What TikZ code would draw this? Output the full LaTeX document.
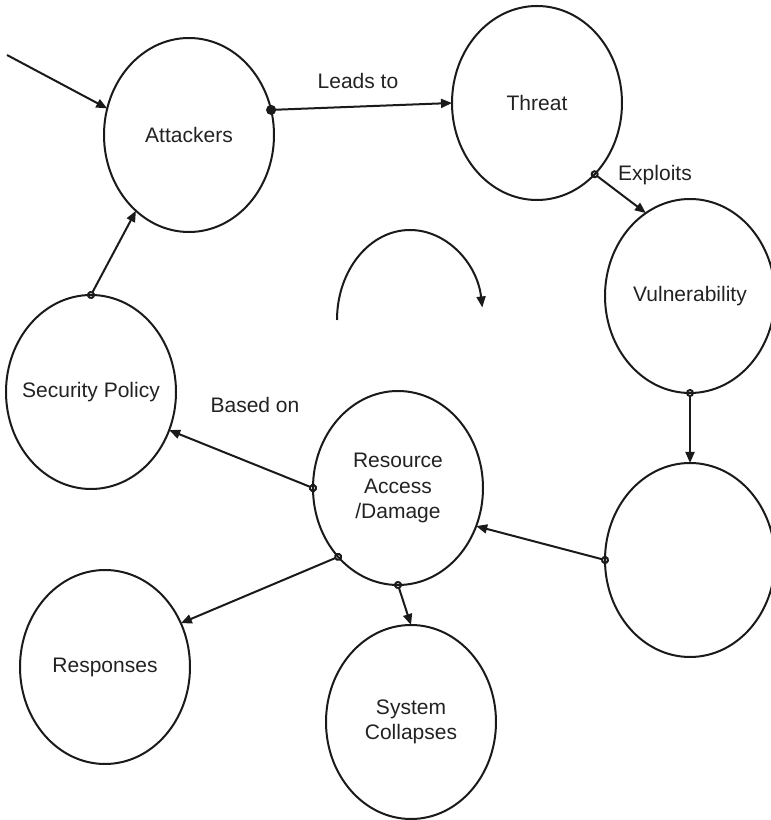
\documentclass[tikz,border=0pt]{standalone}
\usepackage{fontspec}
\setmainfont{Liberation Sans}
\usetikzlibrary{arrows.meta,shapes.geometric}
\definecolor{atkLine}{HTML}{1A1A1A}
\definecolor{atkText}{HTML}{222222}
\tikzset{
  atk diagram/.style={
    draw=atkLine, line width=1pt,
    >={Triangle[length=5.5pt,width=4.5pt]},
    every node/.style={font=\fontsize{10.5}{12.8}\selectfont,
      text=atkText, inner sep=0pt, outer sep=0pt}
  },
  atk state/.style={ellipse, draw=atkLine, line width=1pt,
    inner sep=-15pt, minimum width=85pt, minimum height=97pt,
    align=center},
  atk link/.style={{Circle[open,length=4pt,width=4pt]}->, shorten <=-2pt},
  atk lead/.style={{Circle[length=5pt,width=5pt]}->, shorten <=-2.5pt}
}
\begin{document}
\begin{tikzpicture}[atk diagram,x=0.5pt,y=0.5pt]
    \useasboundingbox (0,0) rectangle (771,820);
    % states
    \node[atk state] (att) at (189,685) {Attackers};
    \node[atk state] (thr) at (537,717) {Threat};
    \node[atk state] (vul) at (690,524) {Vulnerability};
    \node[atk state] (unk) at (690,260) {};
    \node[atk state] (res) at (398,332) {Resource\\Access\\/Damage};
    \node[atk state] (pol) at (91,428) {Security Policy};
    \node[atk state] (rsp) at (105,153) {Responses};
    \node[atk state] (col) at (411,98) {System\\Collapses};
    \coordinate (src) at (7,765);
    % links
    \draw[->] (src) -- (att.162);
    \draw[atk lead] (att.17) -- (thr.west)
      node[pos=0.48,above=9pt] (leads) {Leads to};
    \draw[atk link] (thr.-51) -- (vul.118);
    \node (expl) at (655,645) {Exploits};
    \draw[atk link] (vul.south) -- (unk.north);
    \draw[atk link] (unk.west) -- (res.-26);
    \draw[atk link] (res.west) -- (pol.-26);
    \node (based) at (255,415) {Based on};
    \draw[atk link] (res.-131) -- (rsp.30);
    \draw[atk link] (res.south) -- (col.north);
    \draw[atk link] (pol.north) -- (att.-125);
    % cycle mark
    \draw[->] (337,500) arc[start angle=180,end angle=8,x radius=73,y radius=90];
  \end{tikzpicture}
\end{document}
